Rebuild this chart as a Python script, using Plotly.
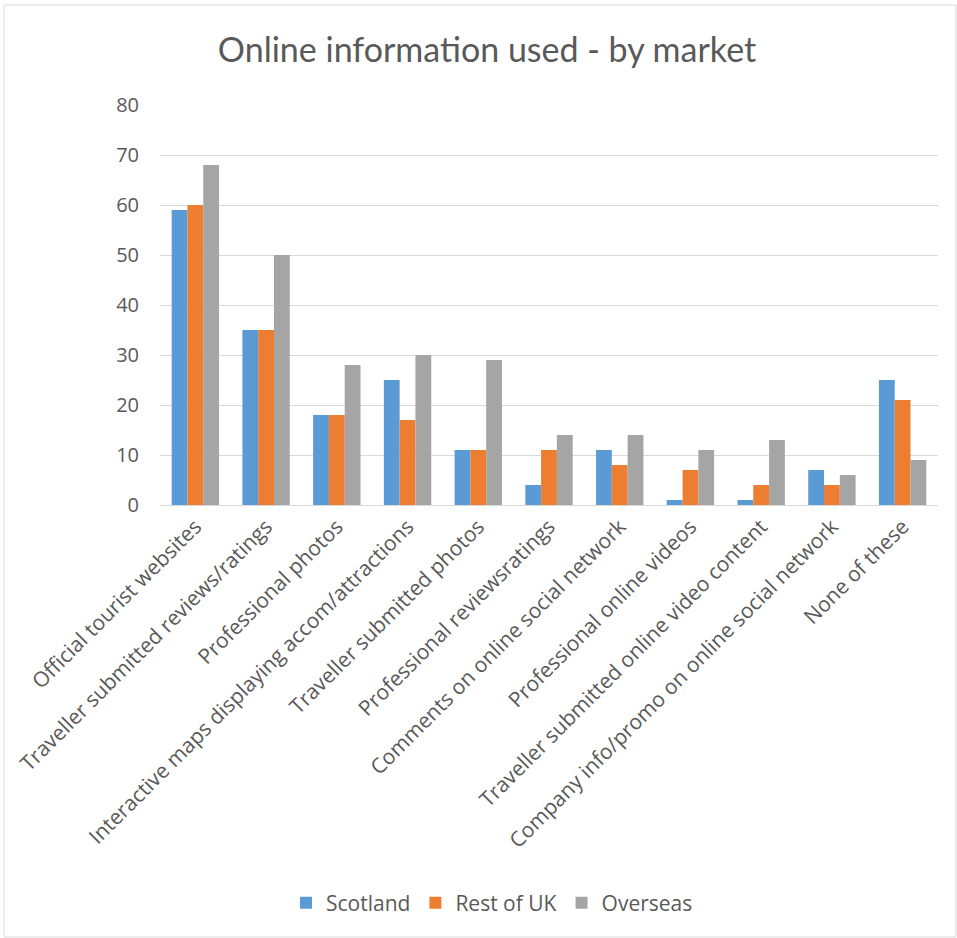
import plotly.graph_objects as go

categories = [
    "Official tourist websites",
    "Traveller submitted reviews/ratings",
    "Professional photos",
    "Interactive maps displaying accom/attractions",
    "Traveller submitted photos",
    "Professional reviewsratings",
    "Comments on online social network",
    "Professional online videos",
    "Traveller submitted online video content",
    "Company info/promo on online social network",
    "None of these",
]
scotland = [59, 35, 18, 25, 11, 4, 11, 1, 1, 7, 25]
rest_of_uk = [60, 35, 18, 17, 11, 11, 8, 7, 4, 4, 21]
overseas = [68, 50, 28, 30, 29, 14, 14, 11, 13, 6, 9]
y_ticks = [0, 10, 20, 30, 40, 50, 60, 70, 80]

FONT = "Open Sans, sans-serif"
TFONT = "Lato, sans-serif"
TXT = "#595959"

fig = go.Figure()
for name, vals, col in [("Scotland", scotland, "#5b9bd5"),
                        ("Rest of UK", rest_of_uk, "#ed7d31"),
                        ("Overseas", overseas, "#a5a5a5")]:
    fig.add_trace(go.Bar(x=categories, y=vals, name=name,
                         marker=dict(color=col, line=dict(width=0))))

W, H = 957, 938
L, R, T, B = 160, 19, 105, 433
pw, ph = W - L - R, H - T - B

fig.update_layout(
    width=W, height=H,
    margin=dict(l=L, r=R, t=T, b=B),
    paper_bgcolor="white", plot_bgcolor="white",
    barmode="group", bargap=0.33, bargroupgap=0,
    title=dict(text="Online information used - by market",
               x=(487 - L) / pw, xref="paper", xanchor="center",
               y=1 - 50 / H, yanchor="middle",
               font=dict(family=TFONT, size=34, color=TXT)),
    font=dict(family=FONT, color=TXT),
    xaxis=dict(tickangle=-45, tickfont=dict(size=21, color=TXT),
               showgrid=False, showline=True, linecolor="#d9d9d9",
               linewidth=1, ticks="", automargin=False),
    yaxis=dict(range=[0, 80], tickvals=y_ticks,
               tickfont=dict(size=20, color=TXT),
               showgrid=True, gridcolor="#d9d9d9", gridwidth=1,
               zeroline=False, showline=False, ticks="", ticklabelstandoff=20,
               automargin=False),
    legend=dict(orientation="h", x=(492 - L) / pw, xanchor="center",
                y=(T + ph - 903) / ph, yanchor="middle",
                font=dict(size=21, color=TXT), traceorder="normal",
                itemwidth=30),
    shapes=[dict(type="rect", xref="paper", yref="paper",
                 x0=(4 - L) / pw, x1=(956 - L) / pw,
                 y0=(T + ph - 937) / ph, y1=(T + ph - 5) / ph,
                 line=dict(color="#d9d9d9", width=1), layer="below")],
)

fig.write_html("out.html")
